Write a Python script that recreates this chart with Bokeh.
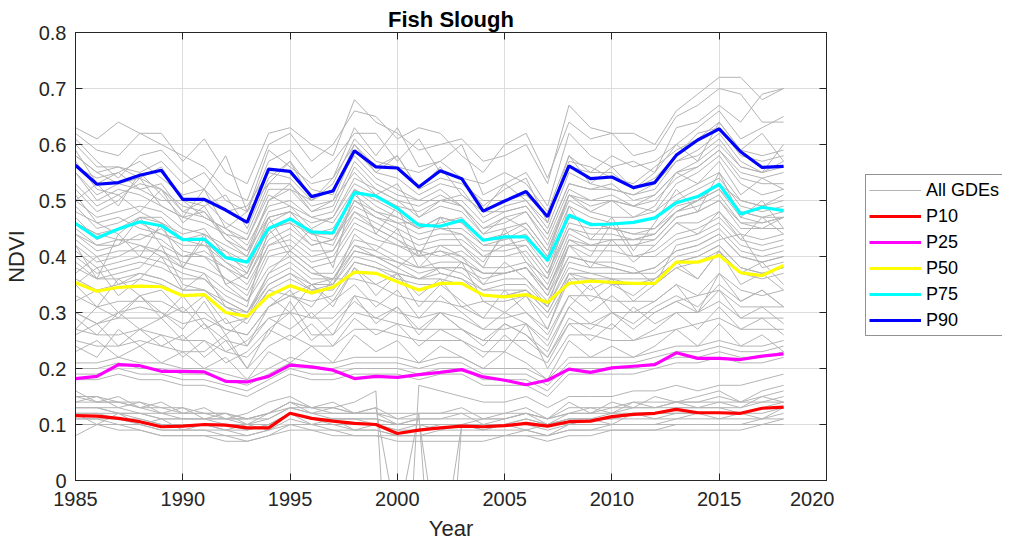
from bokeh.plotting import figure
from bokeh.layouts import row
from bokeh.models import (Legend, LegendItem, LinearAxis, FixedTicker, Range1d,
                          CustomJSTickFormatter, ColumnDataSource)
from bokeh.embed import file_html
from bokeh.resources import INLINE

years = list(range(1985, 2019))

# Percentile series (NDVI)
P10 = [0.116,0.115,0.111,0.105,0.096,0.097,0.100,0.099,0.094,0.094,0.120,0.111,0.106,0.102,0.100,0.084,0.090,
       0.094,0.097,0.096,0.098,0.102,0.097,0.105,0.106,0.114,0.118,0.120,0.127,0.121,0.121,0.120,0.129,0.131]
P25 = [0.182,0.186,0.207,0.205,0.195,0.195,0.194,0.177,0.176,0.186,0.206,0.203,0.197,0.182,0.186,0.184,0.189,
       0.193,0.198,0.185,0.179,0.171,0.179,0.199,0.193,0.201,0.204,0.207,0.228,0.218,0.218,0.216,0.222,0.226]
P50 = [0.353,0.338,0.345,0.347,0.346,0.330,0.332,0.300,0.293,0.330,0.348,0.335,0.345,0.372,0.370,0.355,0.340,
       0.352,0.352,0.331,0.328,0.332,0.318,0.352,0.356,0.354,0.352,0.352,0.390,0.390,0.402,0.371,0.366,0.384]
P75 = [0.459,0.433,0.449,0.462,0.455,0.430,0.431,0.398,0.390,0.450,0.467,0.444,0.442,0.514,0.508,0.486,0.456,
       0.454,0.465,0.429,0.435,0.435,0.393,0.474,0.457,0.458,0.461,0.469,0.496,0.507,0.529,0.476,0.488,0.482]
P90 = [0.563,0.529,0.532,0.545,0.554,0.502,0.502,0.483,0.461,0.556,0.552,0.507,0.517,0.589,0.560,0.558,0.524,
       0.553,0.539,0.481,0.499,0.516,0.471,0.562,0.539,0.542,0.523,0.532,0.581,0.608,0.628,0.587,0.559,0.561]

# Individual GDE NDVI series, in hundredths (1985..2018)
GDE_VALUES = [
    [63,61,64,62,62,57,61,55,53,62,63,60,58,68,64,62,59,60,61,57,58,60,53,67,63,62,62,60,66,69,72,72,68,70],
    [62,59,58,62,60,58,56,52,50,60,62,57,60,66,65,61,63,62,58,55,60,62,54,64,61,62,58,59,65,67,70,69,64,64],
    [61,57,54,58,59,55,52,58,48,59,56,53,54,63,58,63,56,57,60,51,53,55,49,62,58,56,57,55,63,64,67,64,69,70],
    [60,56,56,55,57,53,55,50,48,57,59,54,57,62,62,57,61,55,54,53,55,53,48,58,55,58,56,57,60,63,66,61,63,65],
    [59,53,55,57,54,51,52,48,49,55,54,50,53,61,57,56,55,57,54,49,52,54,46,57,56,54,53,56,59,61,64,59,58,59],
    [58,55,53,54,56,50,49,51,45,54,57,52,51,60,56,58,52,54,53,50,50,51,47,56,55,55,52,54,58,62,63,58,57,58],
    [57,52,51,53,52,48,50,46,44,53,53,49,50,59,55,54,51,53,52,47,49,50,45,55,53,52,51,52,57,59,62,57,55,60],
    [56,54,55,52,50,50,47,45,43,52,52,50,52,58,54,52,50,50,51,48,48,49,44,53,52,53,50,51,55,57,60,56,55,56],
    [55,50,52,51,49,47,46,44,43,51,49,47,48,56,52,50,49,51,49,45,46,48,43,52,50,51,49,50,54,56,59,54,53,53],
    [46,44,45,47,46,43,44,41,39,47,48,46,47,53,51,49,48,50,50,46,48,49,44,53,52,52,51,53,57,58,61,56,55,57],
    [55,51,53,52,53,48,47,45,42,49,50,47,46,52,50,48,45,47,46,42,43,44,39,47,46,45,44,45,48,50,52,47,46,47],
    [52,48,50,54,49,47,48,43,41,50,52,48,49,57,53,51,50,52,49,45,47,48,42,51,49,50,49,48,53,55,58,53,51,52],
    [50,47,48,49,48,45,44,42,40,48,49,45,47,54,52,50,47,49,48,44,45,46,41,50,48,47,47,48,51,53,55,50,49,50],
    [49,45,46,48,46,44,45,40,38,46,48,44,44,52,49,47,45,46,47,43,43,45,40,49,47,46,46,47,50,52,54,49,48,49],
    [44,42,42,44,43,40,41,38,36,43,45,42,43,50,48,47,45,47,46,43,44,46,41,51,50,50,49,51,55,56,59,55,54,55],
    [51,46,47,45,44,42,42,39,36,44,47,43,42,50,47,45,43,44,44,41,41,42,37,45,44,44,43,44,48,50,52,48,47,47],
    [48,46,44,47,47,43,42,41,37,45,46,44,45,51,48,46,46,45,45,42,42,43,38,47,46,45,45,45,49,50,53,48,47,48],
    [47,43,45,46,44,43,43,39,37,45,46,42,43,49,47,46,44,45,44,40,42,42,37,46,45,45,44,44,48,49,51,46,46,47],
    [46,44,43,43,45,41,40,38,35,42,44,41,41,48,46,44,42,43,43,40,40,41,36,45,43,43,43,43,47,48,50,45,45,45],
    [44,41,42,47,42,40,40,36,34,42,43,40,41,47,45,43,41,42,42,39,44,40,35,44,42,42,42,42,46,46,48,44,43,44],
    [43,40,41,41,41,39,38,36,33,41,42,39,40,46,44,42,41,40,41,38,38,39,34,43,41,41,40,41,44,45,47,43,42,43],
    [42,39,40,42,40,38,44,35,32,40,41,38,39,45,43,42,40,41,39,37,37,38,33,42,40,46,40,40,43,44,46,42,41,42],
    [45,42,43,42,41,38,37,34,32,38,40,37,36,42,40,38,36,37,36,33,33,34,30,37,36,36,35,36,39,40,42,38,37,38],
    [36,34,35,37,36,34,34,32,30,35,37,35,36,41,40,39,38,39,39,37,37,38,34,43,42,42,42,43,47,48,50,46,45,47],
    [41,38,39,40,39,37,36,33,31,45,40,37,37,43,42,40,38,38,38,35,36,36,32,40,39,39,38,35,42,43,45,41,40,41],
    [40,37,38,39,38,36,36,32,30,37,39,36,36,42,41,39,37,38,37,34,35,35,31,39,38,38,37,38,41,42,44,40,39,40],
    [39,36,37,38,42,35,34,31,30,36,38,35,35,41,40,38,41,37,36,34,34,34,31,38,37,37,37,37,40,41,43,44,38,39],
    [38,36,36,37,36,34,34,31,29,35,37,34,35,40,39,37,36,36,35,33,33,34,30,37,37,36,36,36,39,40,42,38,37,38],
    [37,40,35,36,35,33,33,30,28,34,36,34,34,39,38,36,35,35,39,32,32,33,29,36,36,35,35,35,38,39,41,37,36,37],
    [35,31,36,33,34,30,33,28,29,34,33,35,32,38,35,37,33,36,31,32,30,33,27,37,34,36,32,35,38,36,41,35,37,34],
    [33,31,32,32,32,30,30,27,26,31,33,31,36,36,35,33,32,32,31,29,29,30,26,33,33,32,32,32,35,30,37,34,33,34],
    [32,34,30,33,29,31,27,29,24,31,34,29,32,35,31,34,29,33,30,27,30,28,25,33,30,33,30,32,35,33,37,32,34,31],
    [30,28,29,29,29,33,28,25,24,29,30,29,29,33,32,30,29,30,29,27,27,28,24,31,35,30,30,30,32,33,34,31,31,31],
    [29,26,30,27,29,25,28,23,25,29,27,30,26,33,28,31,26,30,27,25,28,26,23,31,28,30,27,30,32,30,34,29,31,28],
    [27,26,26,27,26,25,25,23,22,26,32,26,26,30,29,28,27,27,27,25,25,25,22,28,28,27,31,28,30,30,32,29,29,29],
    [26,28,24,27,24,26,22,25,20,27,25,28,24,29,26,28,24,27,25,22,26,23,21,28,25,28,25,27,30,27,31,27,29,26],
    [25,24,24,25,24,23,23,26,20,24,26,24,24,27,27,26,25,25,25,23,23,28,20,26,26,25,25,26,27,28,29,27,27,27],
    [30,28,30,31,30,28,29,27,26,31,33,32,33,39,38,37,36,38,38,36,37,38,34,42,42,43,43,44,48,50,53,50,49,51],
    [58,55,56,54,52,49,48,44,41,47,48,44,43,48,45,43,40,41,40,37,37,38,33,40,39,38,37,38,41,42,44,40,39,40],
    [42,36,44,40,46,38,43,35,37,47,41,45,38,52,44,49,40,47,42,38,45,39,36,49,43,47,41,46,52,48,55,47,50,45],
    [27,31,29,33,30,27,32,26,29,33,30,35,31,38,33,37,31,35,32,29,34,30,27,36,32,35,33,36,39,36,41,37,39,35],
    [50,53,49,55,51,47,52,45,48,53,57,50,54,60,55,58,52,56,51,48,53,50,46,58,53,56,52,55,60,57,64,59,62,57],
    [35,38,33,36,40,34,37,31,29,37,41,38,35,44,41,45,38,42,40,35,39,36,31,42,38,43,39,42,46,44,48,43,47,44],
    [24,22,27,24,26,22,25,21,23,27,30,25,28,32,29,31,27,30,27,24,28,26,22,29,27,30,28,31,33,31,35,32,34,31],
    [53,49,51,48,52,46,49,43,40,50,53,48,50,55,51,53,47,50,49,44,47,45,40,51,48,50,47,49,55,53,57,51,54,52],
    [23,25,22,24,21,23,20,22,18,23,21,24,21,26,23,25,21,24,22,20,23,21,18,25,22,24,22,24,27,24,28,24,26,23],
    [21,21,22,21,21,20,20,19,18,20,22,21,21,22,22,22,21,22,22,20,20,20,18,22,22,22,22,23,24,24,25,24,24,25],
    [20,20,21,20,20,19,19,18,17,19,21,20,20,21,21,21,20,21,21,19,19,19,17,21,21,21,21,22,23,23,24,23,23,24],
    [19,19,20,19,19,18,18,17,16,18,20,19,19,20,20,20,19,20,20,18,18,18,16,20,20,20,20,21,22,22,23,22,22,23],
    [18,18,19,18,18,17,17,16,15,17,19,18,18,19,19,19,18,19,19,17,17,17,15,19,19,19,19,20,21,21,22,21,21,22],
    [16,14,15,13,14,12,13,11,12,14,15,13,14,12,13,11,12,12,13,11,12,13,11,14,12,14,13,15,14,15,16,14,16,17],
    [15,15,14,14,13,13,12,12,11,12,14,13,13,12,12,12,12,12,12,12,12,12,11,13,13,13,14,14,14,14,15,14,15,16],
    [14,14,14,13,12,12,12,11,11,12,13,13,12,12,12,11,11,11,11,11,11,12,11,12,12,13,13,13,14,14,14,14,14,15],
    [14,15,13,14,12,13,11,12,10,12,14,12,13,12,12,10,11,11,12,10,11,12,10,12,13,12,14,13,14,13,14,13,15,14],
    [13,13,13,12,11,11,11,11,10,11,13,12,11,11,11,10,10,10,10,10,10,11,10,11,11,12,12,12,13,13,13,12,13,14],
    [13,13,12,12,11,11,11,10,10,10,12,11,11,11,10,10,10,10,10,10,10,10,10,11,11,11,12,12,12,12,12,12,13,13],
    [12,12,12,11,10,10,10,10,9,10,12,11,10,10,10,9,9,10,10,9,10,10,9,10,11,11,11,11,12,12,12,12,12,13],
    [12,10,12,10,11,9,10,9,10,9,12,10,11,9,10,9,10,9,10,9,10,9,10,10,11,10,12,11,11,12,11,12,11,13],
    [11,11,11,10,9,9,9,9,8,9,11,10,10,9,9,8,8,9,9,9,9,9,8,10,10,10,10,10,11,11,11,11,11,12],
    [11,11,10,10,9,9,9,8,8,9,10,10,9,9,9,8,8,8,8,8,8,9,8,9,9,10,10,10,10,10,10,10,11,11],
    [10,10,10,9,8,8,8,8,7,8,10,9,9,8,8,8,8,8,8,8,8,8,8,9,9,9,9,9,10,10,10,10,10,11],
    [8,10,9,9,8,8,8,7,7,8,9,9,8,8,8,7,7,7,7,7,8,8,7,8,8,9,9,9,9,9,9,9,10,10],
    [15,14,14,13,13,12,12,12,11,12,14,13,13,14,16,-50,17,16,15,14,14,15,13,15,15,15,16,16,17,16,17,17,18,19],
    [13,13,12,12,12,11,11,11,11,11,13,12,12,12,13,-8,12,-40,10,11,11,12,11,12,12,12,13,13,13,13,13,13,14,14],
    [12,12,11,11,10,10,10,9,9,10,12,11,11,11,11,10,11,-15,10,10,10,11,10,11,11,11,12,12,12,12,12,12,13,13],
]

X_TICKS = [1985, 1990, 1995, 2000, 2005, 2010, 2015, 2020]
Y_TICKS = [0, 0.1, 0.2, 0.3, 0.4, 0.5, 0.6, 0.7, 0.8]

SERIES = [("P10", P10, "#ff0000"), ("P25", P25, "#ff00ff"), ("P50", P50, "#ffff00"),
          ("P75", P75, "#00ffff"), ("P90", P90, "#0000ff")]

FONT = "Liberation Sans"
DARK = "#262626"
GRAY = "#b4b4b4"

gsrc = ColumnDataSource(dict(xs=[years] * len(GDE_VALUES),
                             ys=[[v / 100 for v in row_] for row_ in GDE_VALUES]))

# ---------------- main chart ----------------
p = figure(width=834, height=545, output_backend="svg", toolbar_location=None,
           x_range=Range1d(1985, 2020), y_range=Range1d(0, 0.8),
           min_border_left=75, min_border_right=8, min_border_top=32, min_border_bottom=65)

p.title.text = "Fish Slough"
p.title.align = "center"
p.title.text_font = FONT
p.title.text_font_size = "22px"
p.title.text_font_style = "bold"
p.title.text_color = "#000000"
p.title.standoff = 2

p.multi_line("xs", "ys", source=gsrc, line_color=GRAY, line_width=1)
for name, vals, col in SERIES:
    p.line(years, vals, line_color=col, line_width=3.2)

fmt = CustomJSTickFormatter(code="return tick === 0 ? '0' : tick.toFixed(1);")
blank = CustomJSTickFormatter(code="return '';")

for ax in p.xaxis:
    ax.ticker = FixedTicker(ticks=X_TICKS)
for ax in p.yaxis:
    ax.ticker = FixedTicker(ticks=Y_TICKS)
    ax.formatter = fmt

def style(ax):
    ax.major_tick_in = 7
    ax.major_tick_out = 0
    ax.minor_tick_line_color = None
    ax.axis_line_color = DARK
    ax.major_tick_line_color = DARK
    ax.major_label_text_font = FONT
    ax.major_label_text_color = DARK

for ax in p.xaxis:
    style(ax)
    ax.major_label_text_font_size = "20px"
    ax.major_label_standoff = 11
    ax.axis_label = "Year"
    ax.axis_label_text_font = FONT
    ax.axis_label_text_font_size = "22px"
    ax.axis_label_text_font_style = "normal"
    ax.axis_label_text_color = DARK
    ax.axis_label_standoff = 7
for ax in p.yaxis:
    style(ax)
    ax.major_label_text_font_size = "20px"
    ax.major_label_standoff = 9
    ax.axis_label = "NDVI"
    ax.axis_label_text_font = FONT
    ax.axis_label_text_font_size = "22px"
    ax.axis_label_text_font_style = "normal"
    ax.axis_label_text_color = DARK
    ax.axis_label_standoff = 7

top = LinearAxis(ticker=FixedTicker(ticks=X_TICKS), formatter=blank,
                 major_label_standoff=0, major_label_text_font_size="1px")
style(top)
p.add_layout(top, "above")
right = LinearAxis(ticker=FixedTicker(ticks=Y_TICKS), formatter=blank,
                   major_label_standoff=0, major_label_text_font_size="1px")
style(right)
p.add_layout(right, "right")

p.xgrid.grid_line_color = "#dcdcdc"
p.ygrid.grid_line_color = "#dcdcdc"
p.outline_line_color = DARK
p.background_fill_color = "white"
p.border_fill_color = "white"

# ---------------- legend panel (same series, drawn outside its view) ----------------
lf = figure(width=168, height=545, output_backend="svg", toolbar_location=None,
            x_range=Range1d(0, 1), y_range=Range1d(0, 1),
            x_axis_location=None, y_axis_location=None,
            min_border_left=0, min_border_right=0, min_border_top=0, min_border_bottom=0)
lf.grid.visible = False
lf.outline_line_color = None
lf.background_fill_color = "white"
lf.border_fill_color = "white"

lg = lf.multi_line("xs", "ys", source=gsrc, line_color=GRAY, line_width=1)
items = [LegendItem(label="All GDEs", renderers=[lg])]
for name, vals, col in SERIES:
    r = lf.line(years, vals, line_color=col, line_width=3.2)
    items.append(LegendItem(label=name, renderers=[r]))

legend = Legend(items=items, location=(31, 144), orientation="vertical",
                label_text_font=FONT, label_text_font_size="18px", label_text_color="#000000",
                glyph_width=52, glyph_height=24, label_height=24, spacing=2,
                padding=3, label_standoff=5, margin=0,
                border_line_color=DARK, border_line_width=1, background_fill_color="white",
                background_fill_alpha=1.0)
lf.add_layout(legend, "center")

layout = row(p, lf, spacing=0)
open("out.html", "w").write(file_html(layout, INLINE))
